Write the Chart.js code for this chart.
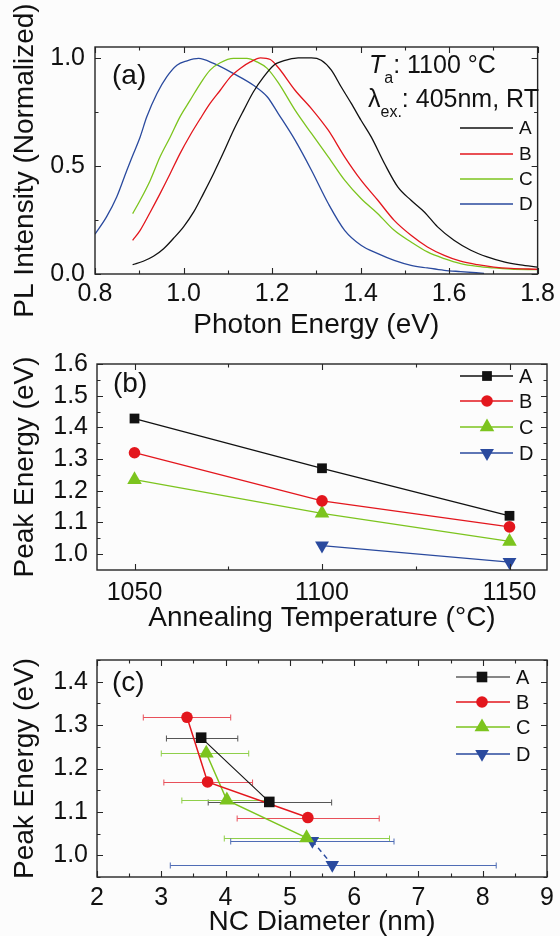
<!DOCTYPE html>
<html><head><meta charset="utf-8">
<script src="https://cdn.jsdelivr.net/npm/chart.js@4/dist/chart.umd.min.js"></script>
<style>
html,body{margin:0;padding:0;background:#fcfcfc;}
#wrap{position:relative;width:560px;height:936px;overflow:hidden;}
canvas{position:absolute;left:0;}
</style></head><body>
<div id="wrap">
<canvas id="ca" width="560" height="340" style="top:0"></canvas>
<canvas id="cb" width="560" height="296" style="top:340px"></canvas>
<canvas id="cc" width="560" height="300" style="top:636px"></canvas>
</div>
<script>
// ---------- Panel (a): PL spectra ----------
const energyA = [0.885,0.909,0.932,0.955,0.977,1.0,1.023,1.045,1.068,1.091,1.113,1.136,1.158,1.181,1.204,1.219,1.236,1.259,1.289,1.311,1.334,1.356,1.379,1.401,1.424,1.454,1.484,1.514,1.544,1.574,1.611,1.649,1.686,1.724,1.761,1.8];
const plA     = [0.043,0.059,0.082,0.117,0.164,0.218,0.287,0.372,0.465,0.565,0.665,0.758,0.843,0.912,0.966,0.981,0.992,1.0,1.0,0.989,0.943,0.866,0.789,0.711,0.634,0.511,0.403,0.341,0.287,0.218,0.156,0.11,0.079,0.056,0.042,0.032];
const energyB = [0.885,0.902,0.925,0.947,0.97,0.992,1.015,1.038,1.06,1.083,1.106,1.128,1.151,1.174,1.196,1.214,1.252,1.289,1.327,1.364,1.401,1.439,1.476,1.514,1.551,1.589,1.626,1.664,1.701,1.739,1.8];
const plB     = [0.156,0.202,0.287,0.372,0.465,0.557,0.642,0.719,0.789,0.85,0.912,0.951,0.981,1.0,0.992,0.955,0.85,0.765,0.665,0.542,0.434,0.341,0.248,0.179,0.125,0.086,0.059,0.043,0.032,0.026,0.022];
const energyC = [0.885,0.902,0.925,0.947,0.97,0.992,1.015,1.038,1.06,1.083,1.113,1.143,1.166,1.189,1.214,1.252,1.289,1.327,1.364,1.401,1.439,1.476,1.514,1.551,1.589,1.626,1.664,1.701,1.739,1.8];
const plC     = [0.279,0.341,0.434,0.542,0.634,0.727,0.804,0.881,0.943,0.977,0.997,0.997,0.981,0.951,0.885,0.758,0.65,0.542,0.434,0.349,0.279,0.202,0.148,0.102,0.071,0.048,0.035,0.028,0.023,0.02];
const energyD = [0.8,0.826,0.849,0.872,0.887,0.902,0.917,0.94,0.962,0.985,1.008,1.034,1.068,1.113,1.158,1.189,1.214,1.252,1.289,1.327,1.364,1.401,1.439,1.476,1.514,1.551,1.589,1.626,1.679];
const plD     = [0.184,0.264,0.356,0.48,0.557,0.634,0.727,0.835,0.912,0.966,0.986,0.997,0.974,0.927,0.873,0.82,0.742,0.619,0.48,0.326,0.202,0.133,0.094,0.063,0.04,0.028,0.017,0.011,0.003];
const xTicksA = [0.8,1.0,1.2,1.4,1.6,1.8];
const yTicksA = [0.0,0.5,1.0];

// ---------- Panel (b): peak energy vs annealing temperature ----------
const tempsB  = [1050,1100,1150];
const peakB_A = [1.428,1.271,1.121];
const peakB_B = [1.320,1.168,1.086];
const peakB_C = [1.235,1.129,1.040];
const peakB_D = [null,1.027,0.975];
const xTicksB = [1050,1100,1150];
const yTicksB = [1.0,1.1,1.2,1.3,1.4,1.5,1.6];

// ---------- Panel (c): peak energy vs NC diameter ----------
const diamC_A = [3.62,4.68];       const peakC_A = [1.271,1.123];
const errLoC_A = [3.08,3.73];      const errHiC_A = [4.19,5.65];
const diamC_B = [3.40,3.72,5.28];  const peakC_B = [1.318,1.169,1.087];
const errLoC_B = [2.72,3.04,4.18]; const errHiC_B = [4.08,4.42,6.39];
const diamC_C = [3.70,4.02,5.26];  const peakC_C = [1.235,1.127,1.040];
const errLoC_C = [3.00,3.32,3.98]; const errHiC_C = [4.36,4.65,6.55];
const diamC_D = [5.35,5.66];       const peakC_D = [1.033,0.978];
const errLoC_D = [4.08,3.14];      const errHiC_D = [6.62,8.21];
const xTicksC = [2,3,4,5,6,7,8,9];
const yTicksC = [1.0,1.1,1.2,1.3,1.4];

const seriesLabels = ['A','B','C','D'];

// ---------- styling ----------
const FF = "'Liberation Sans', Arial, Helvetica, sans-serif";
const COL = ['#111111','#e3161d','#7cc41e','#2a4a9e'];
const ERRCOL = ['#555555','#e8505a','#8fcf4a','#4f6cb5'];

function drawMarker(ctx, style, r, rot, x, y){
  ctx.beginPath();
  if(style==='rect'){ const s=r*Math.SQRT1_2; ctx.rect(x-s,y-s,2*s,2*s); }
  else if(style==='circle'){ ctx.arc(x,y,r,0,Math.PI*2); }
  else if(style==='triangle'){
    let a=(rot||0)*Math.PI/180;
    for(let k=0;k<3;k++){ const px=x+Math.sin(a)*r, py=y-Math.cos(a)*r; k?ctx.lineTo(px,py):ctx.moveTo(px,py); a+=2*Math.PI/3; }
    ctx.closePath();
  }
  ctx.fill();
}

function annotA(ctx){
  ctx.fillStyle='#111'; ctx.textBaseline='alphabetic'; ctx.textAlign='left';
  let x=369;
  ctx.font='italic 25px '+FF; ctx.fillText('T',x,73); x+=ctx.measureText('T').width;
  ctx.font='16px '+FF; ctx.fillText('a',x,83); x+=ctx.measureText('a').width;
  ctx.font='25px '+FF; ctx.fillText(': 1100 °C',x,73);
  x=368;
  ctx.font='25px '+FF; ctx.fillText('λ',x,107); x+=ctx.measureText('λ').width;
  ctx.font='16px '+FF; ctx.fillText('ex.',x,117); x+=ctx.measureText('ex.').width;
  ctx.font='25px '+FF; ctx.fillText(': 405nm, RT',x,107);
}
const ANNOT = {ca: annotA};

const deco = {
  id:'deco',
  beforeDatasetsDraw(chart){
    const {ctx}=chart; const xs=chart.scales.x, ys=chart.scales.y;
    chart.data.datasets.forEach(ds=>{
      if(!ds.errLo) return;
      ctx.save(); ctx.strokeStyle=ds.errColor; ctx.lineWidth=1;
      ds.data.forEach((p,i)=>{
        const y=Math.round(ys.getPixelForValue(p.y))+0.5;
        const x0=xs.getPixelForValue(ds.errLo[i]), x1=xs.getPixelForValue(ds.errHi[i]);
        ctx.beginPath(); ctx.moveTo(x0,y); ctx.lineTo(x1,y);
        ctx.moveTo(x0,y-3); ctx.lineTo(x0,y+3); ctx.moveTo(x1,y-3); ctx.lineTo(x1,y+3);
        ctx.stroke();
      });
      ctx.restore();
    });
  },
  afterDraw(chart){
    const cfg=chart.options.plugins.deco;
    const {ctx, chartArea:a}=chart; const xs=chart.scales.x, ys=chart.scales.y;
    ctx.save();
    ctx.strokeStyle='#262626'; ctx.lineWidth=1.4;
    ctx.strokeRect(a.left,a.top,a.right-a.left,a.bottom-a.top);
    ctx.lineWidth=1.1;
    for(let i=0;;i++){
      const v=cfg.xStart+i*cfg.xMinor; if(v>xs.max+1e-9) break;
      const major=cfg.xMajor.some(m=>Math.abs(m-v)<1e-6);
      const L=major?6:3.5, px=Math.round(xs.getPixelForValue(v))+0.5;
      ctx.beginPath(); ctx.moveTo(px,a.bottom); ctx.lineTo(px,a.bottom-L);
      ctx.moveTo(px,a.top); ctx.lineTo(px,a.top+L); ctx.stroke();
    }
    for(let i=0;;i++){
      const v=cfg.yStart+i*cfg.yMinor; if(v>ys.max+1e-9) break;
      const major=cfg.yMajor.some(m=>Math.abs(m-v)<1e-6);
      const L=major?6:3.5, py=Math.round(ys.getPixelForValue(v))+0.5;
      ctx.beginPath(); ctx.moveTo(a.left,py); ctx.lineTo(a.left+L,py);
      ctx.moveTo(a.right,py); ctx.lineTo(a.right-L,py); ctx.stroke();
    }
    ctx.fillStyle='#111'; ctx.font='28px '+FF; ctx.textBaseline='middle'; ctx.textAlign='left';
    ctx.fillText(cfg.panelText,cfg.panelX,cfg.panelY);
    chart.data.datasets.forEach((ds,i)=>{
      const y=cfg.legYs[i];
      ctx.strokeStyle=ds.borderColor; ctx.lineWidth=ds.borderWidth||1.3; ctx.setLineDash([]);
      ctx.beginPath(); ctx.moveTo(cfg.legX0,y); ctx.lineTo(cfg.legX1,y); ctx.stroke();
      if(ds.pointStyle){ ctx.fillStyle=ds.backgroundColor; drawMarker(ctx,ds.pointStyle,ds.pointRadius,ds.rotation,cfg.legXm,y); }
      ctx.fillStyle='#111'; ctx.font=cfg.legSize+'px '+FF; ctx.textBaseline='middle'; ctx.textAlign='left';
      ctx.fillText(ds.label,cfg.legXt,y+1);
    });
    const fn=ANNOT[chart.canvas.id]; if(fn) fn(ctx);
    ctx.restore();
  }
};

function baseScale(min,max,ticksArr,fmt,fit,isX,title,titlePad,tickPad){
  return {
    type:'linear', min, max,
    afterBuildTicks:s=>{ s.ticks=ticksArr.map(v=>({value:v})); },
    afterFit:s=>{ if(isX) s.height=fit; else s.width=fit; },
    grid:{display:false,drawTicks:false}, border:{display:false},
    ticks:{font:{family:FF,size:25},color:'#111',padding:tickPad,autoSkip:false,maxRotation:0,callback:fmt},
    title:{display:true,text:title,color:'#111',font:{family:FF,size:28,lineHeight:1},padding:titlePad}
  };
}
const f1=v=>Number(v).toFixed(1), f0=v=>String(Math.round(v));
const common = {responsive:false, animation:false, events:[]};

// ---------- Chart (a) ----------
const specE=[energyA,energyB,energyC,energyD], specI=[plA,plB,plC,plD];
new Chart(document.getElementById('ca'),{
  type:'line',
  data:{datasets:seriesLabels.map((lab,k)=>({
    label:lab, data:specE[k].map((x,i)=>({x,y:specI[k][i]})),
    borderColor:COL[k], borderWidth:1.3, pointRadius:0, cubicInterpolationMode:'monotone', fill:false
  }))},
  options:Object.assign({},common,{
    layout:{padding:{left:0,right:18,top:47,bottom:0}},
    plugins:{legend:{display:false},tooltip:{enabled:false},
      deco:{xStart:0.8,xMinor:0.1,xMajor:xTicksA,yStart:0,yMinor:0.25,yMajor:yTicksA,
        panelText:'(a)',panelX:112,panelY:76,
        legX0:460,legX1:513,legXm:486,legXt:519,legYs:[128,154,179,204],legSize:19}},
    scales:{
      x:baseScale(0.8,1.8,xTicksA,f1,66,true,'Photon Energy (eV)',{top:0,bottom:1},5),
      y:baseScale(0,1.05,yTicksA,f1,95,false,'PL Intensity (Normalized)',{top:11,bottom:0},10)
    }
  }),
  plugins:[deco]
});

// ---------- Chart (b) ----------
const peaksB=[peakB_A,peakB_B,peakB_C,peakB_D];
const styles=[['rect',6.9,0],['circle',5.8,0],['triangle',8.4,0],['triangle',8,180]];
new Chart(document.getElementById('cb'),{
  type:'line',
  data:{datasets:seriesLabels.map((lab,k)=>({
    label:lab, data:tempsB.map((x,i)=>({x,y:peaksB[k][i]})).filter(p=>p.y!==null),
    borderColor:COL[k], backgroundColor:COL[k], borderWidth:1.3,
    pointStyle:styles[k][0], pointRadius:styles[k][1], rotation:styles[k][2], pointBorderWidth:0,
    pointBackgroundColor:COL[k], tension:0, clip:false, fill:false
  }))},
  options:Object.assign({},common,{
    layout:{padding:{left:0,right:13,top:14,bottom:0}},
    plugins:{legend:{display:false},tooltip:{enabled:false},
      deco:{xStart:1050,xMinor:25,xMajor:xTicksB,yStart:1.0,yMinor:0.05,yMajor:yTicksB,
        panelText:'(b)',panelX:113,panelY:44,
        legX0:460,legX1:513,legXm:487,legXt:519,legYs:[36,61,87,113],legSize:20}},
    scales:{
      x:baseScale(1040,1160,xTicksB,f0,66,true,'Annealing Temperature (°C)',{top:0,bottom:4},8),
      y:baseScale(0.95,1.6,yTicksB,f1,97,false,'Peak Energy (eV)',{top:11,bottom:0},9)
    }
  }),
  plugins:[deco]
});

// ---------- Chart (c) ----------
const dC=[diamC_A,diamC_B,diamC_C,diamC_D], pC=[peakC_A,peakC_B,peakC_C,peakC_D];
const loC=[errLoC_A,errLoC_B,errLoC_C,errLoC_D], hiC=[errHiC_A,errHiC_B,errHiC_C,errHiC_D];
const stylesC=[['rect',7.5,0],['circle',5.8,0],['triangle',8.6,0],['triangle',7.8,180]];
new Chart(document.getElementById('cc'),{
  type:'line',
  data:{datasets:seriesLabels.map((lab,k)=>({
    label:lab, data:dC[k].map((x,i)=>({x,y:pC[k][i]})),
    errLo:loC[k], errHi:hiC[k], errColor:ERRCOL[k],
    borderColor:COL[k], backgroundColor:COL[k], borderWidth:k===0?1.1:1.5, borderDash:k===3?[5,4]:[],
    pointStyle:stylesC[k][0], pointRadius:stylesC[k][1], rotation:stylesC[k][2], pointBorderWidth:0,
    pointBackgroundColor:COL[k], tension:0, clip:false, fill:false
  }))},
  options:Object.assign({},common,{
    layout:{padding:{left:0,right:13,top:17,bottom:0}},
    plugins:{legend:{display:false},tooltip:{enabled:false},
      deco:{xStart:2,xMinor:0.5,xMajor:xTicksC,yStart:0.95,yMinor:0.05,yMajor:yTicksC,
        panelText:'(c)',panelX:112,panelY:47,
        legX0:456,legX1:510,legXm:482,legXt:516,legYs:[41,66,91,118],legSize:20}},
    scales:{
      x:baseScale(2,9,xTicksC,f0,59,true,'NC Diameter (nm)',{top:0,bottom:0},6),
      y:baseScale(0.95,1.45,yTicksC,f1,97,false,'Peak Energy (eV)',{top:11,bottom:0},9)
    }
  }),
  plugins:[deco]
});
</script>
</body></html>
